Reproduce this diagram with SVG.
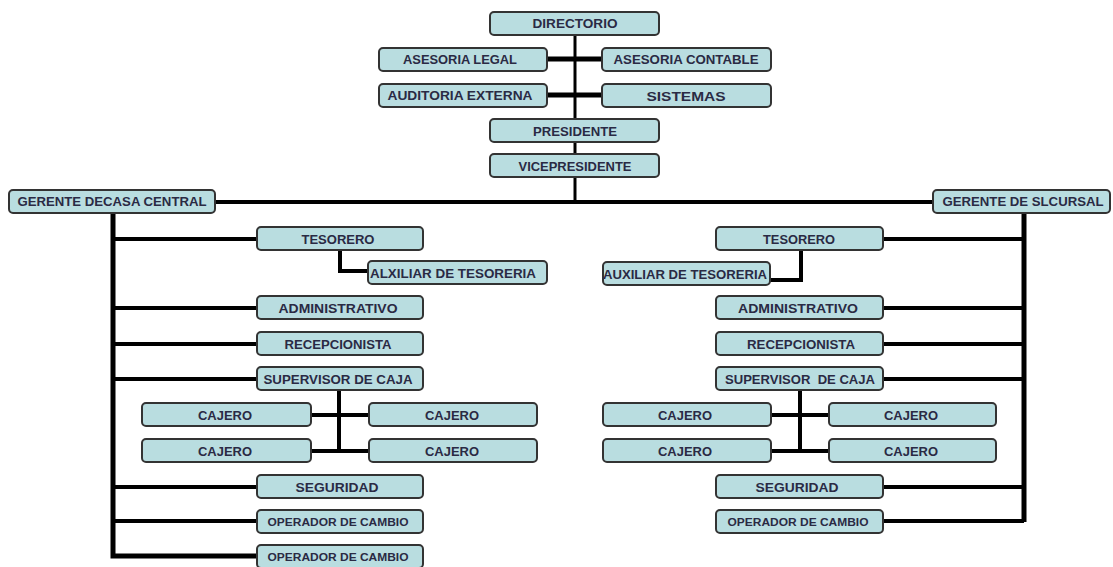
<svg xmlns="http://www.w3.org/2000/svg" width="1113" height="567" viewBox="0 0 1113 567">
<style>
.b{fill:#b9dde0;stroke:#333;stroke-width:2}
.t{font-family:"Liberation Sans",Arial,sans-serif;font-size:12.5px;font-weight:bold;fill:#2a2a44;text-anchor:middle}
.sm{font-size:10.5px}
.c{stroke:#000;fill:none;stroke-linejoin:miter;stroke-linecap:butt}
.w3{stroke-width:3}
.w4{stroke-width:4}
.w5{stroke-width:5}
</style>
<rect width="1113" height="567" fill="#fff"/>
<g id="connectors">
<path class="c w3" d="M575 35 V202"/>
<path class="c w5" d="M548 59 H602 M548 95 H602"/>
<path class="c w4" d="M215 202 H933"/>
<path class="c w5" d="M113 213 V556 H257"/>
<path class="c w4" d="M113 239 H257 M113 308 H257 M113 344 H257 M113 379 H257 M113 487 H257 M113 521 H257"/>
<path class="c w4" d="M340 250 V271 H368"/>
<path class="c w4" d="M339 391 V453 M312 415 H370 M312 451 H370"/>
<path class="c w5" d="M1024 213 V522"/>
<path class="c w4" d="M883 239 H1024 M883 308 H1024 M883 344 H1024 M883 379 H1024 M883 487 H1024 M883 521 H1024"/>
<path class="c w4" d="M801 251 V280 H770"/>
<path class="c w4" d="M800 391 V453 M770 415 H829 M770 451 H829"/>
</g>
<g id="directorio"><rect class="b" x="490" y="12" width="169" height="23" rx="4"/><text class="t" x="575" y="28" textLength="85" lengthAdjust="spacingAndGlyphs">DIRECTORIO</text></g>
<g id="asesoria-legal"><rect class="b" x="379" y="48" width="168" height="23" rx="4"/><text class="t" x="460" y="64" textLength="114" lengthAdjust="spacingAndGlyphs">ASESORIA LEGAL</text></g>
<g id="asesoria-contable"><rect class="b" x="602" y="48" width="169" height="23" rx="4"/><text class="t" x="686" y="64" textLength="145" lengthAdjust="spacingAndGlyphs">ASESORIA CONTABLE</text></g>
<g id="auditoria-externa"><rect class="b" x="379" y="84" width="168" height="23" rx="4"/><text class="t" x="460" y="100" textLength="145" lengthAdjust="spacingAndGlyphs">AUDITORIA EXTERNA</text></g>
<g id="sistemas"><rect class="b" x="602" y="84" width="169" height="23" rx="4"/><text class="t" x="686" y="101" textLength="79" lengthAdjust="spacingAndGlyphs">SISTEMAS</text></g>
<g id="presidente"><rect class="b" x="490" y="119" width="169" height="23" rx="4"/><text class="t" x="575" y="136" textLength="84" lengthAdjust="spacingAndGlyphs">PRESIDENTE</text></g>
<g id="vicepresidente"><rect class="b" x="490" y="154" width="169" height="23" rx="4"/><text class="t" x="575" y="171" textLength="113" lengthAdjust="spacingAndGlyphs">VICEPRESIDENTE</text></g>
<g id="gerente-casa-central"><rect class="b" x="9" y="190" width="206" height="23" rx="4"/><text class="t" x="112" y="206" textLength="189" lengthAdjust="spacingAndGlyphs">GERENTE DECASA CENTRAL</text></g>
<g id="gerente-sucursal"><rect class="b" x="933" y="190" width="177" height="23" rx="4"/><text class="t" x="1023" y="206" textLength="161" lengthAdjust="spacingAndGlyphs">GERENTE DE SLCURSAL</text></g>
<g id="l-tesorero"><rect class="b" x="257" y="227" width="166" height="23" rx="4"/><text class="t" x="338" y="244" textLength="73" lengthAdjust="spacingAndGlyphs">TESORERO</text></g>
<g id="l-auxiliar"><rect class="b" x="368" y="261" width="179" height="23" rx="4"/><text class="t" x="453" y="278" textLength="166" lengthAdjust="spacingAndGlyphs">ALXILIAR DE TESORERIA</text></g>
<g id="l-administrativo"><rect class="b" x="257" y="296" width="166" height="23" rx="4"/><text class="t" x="338" y="313" textLength="119" lengthAdjust="spacingAndGlyphs">ADMINISTRATIVO</text></g>
<g id="l-recepcionista"><rect class="b" x="257" y="332" width="166" height="23" rx="4"/><text class="t" x="338" y="349" textLength="107" lengthAdjust="spacingAndGlyphs">RECEPCIONISTA</text></g>
<g id="l-supervisor"><rect class="b" x="257" y="367" width="166" height="23" rx="4"/><text class="t" x="338" y="384" textLength="149" lengthAdjust="spacingAndGlyphs">SUPERVISOR DE CAJA</text></g>
<g id="l-cajero-1"><rect class="b" x="142" y="403" width="169" height="23" rx="4"/><text class="t" x="225" y="420" textLength="54" lengthAdjust="spacingAndGlyphs">CAJERO</text></g>
<g id="l-cajero-2"><rect class="b" x="369" y="403" width="168" height="23" rx="4"/><text class="t" x="452" y="420" textLength="54" lengthAdjust="spacingAndGlyphs">CAJERO</text></g>
<g id="l-cajero-3"><rect class="b" x="142" y="439" width="169" height="23" rx="4"/><text class="t" x="225" y="456" textLength="54" lengthAdjust="spacingAndGlyphs">CAJERO</text></g>
<g id="l-cajero-4"><rect class="b" x="369" y="439" width="168" height="23" rx="4"/><text class="t" x="452" y="456" textLength="54" lengthAdjust="spacingAndGlyphs">CAJERO</text></g>
<g id="l-seguridad"><rect class="b" x="257" y="475" width="166" height="23" rx="4"/><text class="t" x="337" y="492" textLength="83" lengthAdjust="spacingAndGlyphs">SEGURIDAD</text></g>
<g id="l-operador-1"><rect class="b" x="257" y="510" width="166" height="23" rx="4"/><text class="t sm" x="338" y="526" textLength="141" lengthAdjust="spacingAndGlyphs">OPERADOR DE CAMBIO</text></g>
<g id="l-operador-2"><rect class="b" x="257" y="545" width="166" height="23" rx="4"/><text class="t sm" x="338" y="561" textLength="141" lengthAdjust="spacingAndGlyphs">OPERADOR DE CAMBIO</text></g>
<g id="r-tesorero"><rect class="b" x="716" y="227" width="167" height="23" rx="4"/><text class="t" x="799" y="244" textLength="72" lengthAdjust="spacingAndGlyphs">TESORERO</text></g>
<g id="r-auxiliar"><rect class="b" x="603" y="262" width="167" height="23" rx="4"/><text class="t" x="685" y="279" textLength="164" lengthAdjust="spacingAndGlyphs">AUXILIAR DE TESORERIA</text></g>
<g id="r-administrativo"><rect class="b" x="716" y="296" width="167" height="23" rx="4"/><text class="t" x="798" y="313" textLength="120" lengthAdjust="spacingAndGlyphs">ADMINISTRATIVO</text></g>
<g id="r-recepcionista"><rect class="b" x="716" y="332" width="167" height="23" rx="4"/><text class="t" x="801" y="349" textLength="108" lengthAdjust="spacingAndGlyphs">RECEPCIONISTA</text></g>
<g id="r-supervisor"><rect class="b" x="716" y="367" width="167" height="23" rx="4"/><text class="t" x="800" y="384" textLength="150" lengthAdjust="spacingAndGlyphs" xml:space="preserve">SUPERVISOR  DE CAJA</text></g>
<g id="r-cajero-1"><rect class="b" x="603" y="403" width="168" height="23" rx="4"/><text class="t" x="685" y="420" textLength="54" lengthAdjust="spacingAndGlyphs">CAJERO</text></g>
<g id="r-cajero-2"><rect class="b" x="829" y="403" width="167" height="23" rx="4"/><text class="t" x="911" y="420" textLength="54" lengthAdjust="spacingAndGlyphs">CAJERO</text></g>
<g id="r-cajero-3"><rect class="b" x="603" y="439" width="168" height="23" rx="4"/><text class="t" x="685" y="456" textLength="54" lengthAdjust="spacingAndGlyphs">CAJERO</text></g>
<g id="r-cajero-4"><rect class="b" x="829" y="439" width="167" height="23" rx="4"/><text class="t" x="911" y="456" textLength="54" lengthAdjust="spacingAndGlyphs">CAJERO</text></g>
<g id="r-seguridad"><rect class="b" x="716" y="475" width="167" height="23" rx="4"/><text class="t" x="797" y="492" textLength="83" lengthAdjust="spacingAndGlyphs">SEGURIDAD</text></g>
<g id="r-operador"><rect class="b" x="716" y="510" width="167" height="23" rx="4"/><text class="t sm" x="798" y="526" textLength="141" lengthAdjust="spacingAndGlyphs">OPERADOR DE CAMBIO</text></g>
</svg>
